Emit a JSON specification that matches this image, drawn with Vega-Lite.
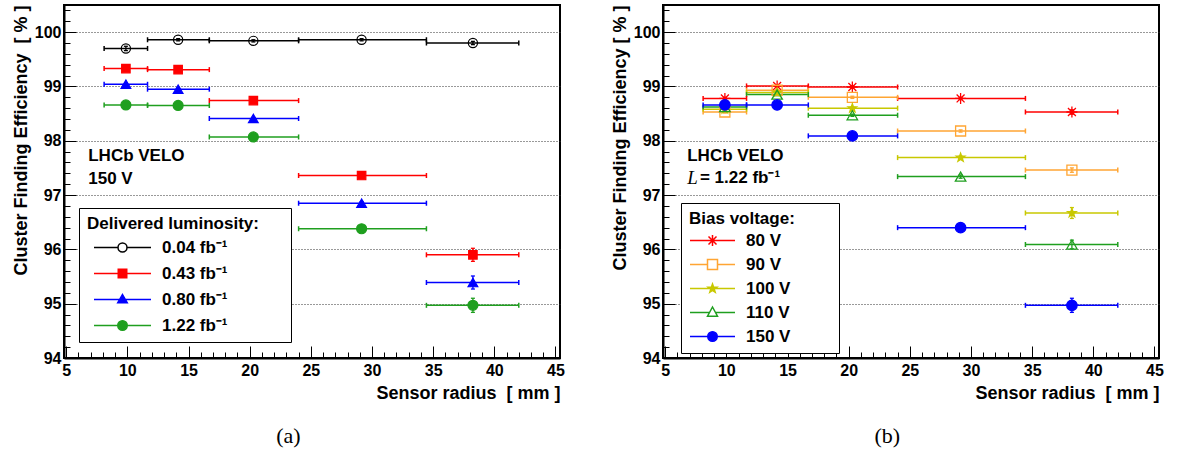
{
  "$schema": "https://vega.github.io/schema/vega-lite/v6.json",
  "padding": {"left": 11, "top": 1, "right": 5, "bottom": 0},
  "datasets": {
    "lumi": [
      {"series": "0.04 fb⁻¹", "r": 9.88, "rlo": 8.1, "rhi": 11.65, "eff": 99.70, "elo": 99.66, "ehi": 99.74},
      {"series": "0.04 fb⁻¹", "r": 14.15, "rlo": 11.65, "rhi": 16.7, "eff": 99.86, "elo": 99.84, "ehi": 99.88},
      {"series": "0.04 fb⁻¹", "r": 20.3, "rlo": 16.7, "rhi": 24.0, "eff": 99.84, "elo": 99.82, "ehi": 99.86},
      {"series": "0.04 fb⁻¹", "r": 29.15, "rlo": 24.0, "rhi": 34.45, "eff": 99.86, "elo": 99.84, "ehi": 99.88},
      {"series": "0.04 fb⁻¹", "r": 38.25, "rlo": 34.45, "rhi": 42.0, "eff": 99.80, "elo": 99.77, "ehi": 99.83},
      {"series": "0.43 fb⁻¹", "r": 9.88, "rlo": 8.1, "rhi": 11.65, "eff": 99.33, "elo": 99.31, "ehi": 99.35},
      {"series": "0.43 fb⁻¹", "r": 14.15, "rlo": 11.65, "rhi": 16.7, "eff": 99.31, "elo": 99.29, "ehi": 99.33},
      {"series": "0.43 fb⁻¹", "r": 20.3, "rlo": 16.7, "rhi": 24.0, "eff": 98.74, "elo": 98.72, "ehi": 98.76},
      {"series": "0.43 fb⁻¹", "r": 29.15, "rlo": 24.0, "rhi": 34.45, "eff": 97.36, "elo": 97.33, "ehi": 97.39},
      {"series": "0.43 fb⁻¹", "r": 38.25, "rlo": 34.45, "rhi": 42.0, "eff": 95.90, "elo": 95.78, "ehi": 96.02},
      {"series": "0.80 fb⁻¹", "r": 9.88, "rlo": 8.1, "rhi": 11.65, "eff": 99.04, "elo": 99.02, "ehi": 99.06},
      {"series": "0.80 fb⁻¹", "r": 14.15, "rlo": 11.65, "rhi": 16.7, "eff": 98.95, "elo": 98.93, "ehi": 98.97},
      {"series": "0.80 fb⁻¹", "r": 20.3, "rlo": 16.7, "rhi": 24.0, "eff": 98.41, "elo": 98.39, "ehi": 98.43},
      {"series": "0.80 fb⁻¹", "r": 29.15, "rlo": 24.0, "rhi": 34.45, "eff": 96.85, "elo": 96.82, "ehi": 96.88},
      {"series": "0.80 fb⁻¹", "r": 38.25, "rlo": 34.45, "rhi": 42.0, "eff": 95.39, "elo": 95.27, "ehi": 95.51},
      {"series": "1.22 fb⁻¹", "r": 9.88, "rlo": 8.1, "rhi": 11.65, "eff": 98.66, "elo": 98.64, "ehi": 98.68},
      {"series": "1.22 fb⁻¹", "r": 14.15, "rlo": 11.65, "rhi": 16.7, "eff": 98.65, "elo": 98.63, "ehi": 98.67},
      {"series": "1.22 fb⁻¹", "r": 20.3, "rlo": 16.7, "rhi": 24.0, "eff": 98.07, "elo": 98.05, "ehi": 98.09},
      {"series": "1.22 fb⁻¹", "r": 29.15, "rlo": 24.0, "rhi": 34.45, "eff": 96.38, "elo": 96.35, "ehi": 96.41},
      {"series": "1.22 fb⁻¹", "r": 38.25, "rlo": 34.45, "rhi": 42.0, "eff": 94.97, "elo": 94.84, "ehi": 95.10}
    ],
    "bias": [
      {"series": "80 V", "r": 9.88, "rlo": 8.1, "rhi": 11.65, "eff": 98.78, "elo": 98.76, "ehi": 98.80},
      {"series": "80 V", "r": 14.15, "rlo": 11.65, "rhi": 16.7, "eff": 99.01, "elo": 98.99, "ehi": 99.03},
      {"series": "80 V", "r": 20.3, "rlo": 16.7, "rhi": 24.0, "eff": 98.99, "elo": 98.97, "ehi": 99.01},
      {"series": "80 V", "r": 29.15, "rlo": 24.0, "rhi": 34.45, "eff": 98.78, "elo": 98.76, "ehi": 98.80},
      {"series": "80 V", "r": 38.25, "rlo": 34.45, "rhi": 42.0, "eff": 98.53, "elo": 98.49, "ehi": 98.57},
      {"series": "90 V", "r": 9.88, "rlo": 8.1, "rhi": 11.65, "eff": 98.53, "elo": 98.51, "ehi": 98.55},
      {"series": "90 V", "r": 14.15, "rlo": 11.65, "rhi": 16.7, "eff": 98.93, "elo": 98.91, "ehi": 98.95},
      {"series": "90 V", "r": 20.3, "rlo": 16.7, "rhi": 24.0, "eff": 98.80, "elo": 98.78, "ehi": 98.82},
      {"series": "90 V", "r": 29.15, "rlo": 24.0, "rhi": 34.45, "eff": 98.18, "elo": 98.16, "ehi": 98.20},
      {"series": "90 V", "r": 38.25, "rlo": 34.45, "rhi": 42.0, "eff": 97.46, "elo": 97.42, "ehi": 97.50},
      {"series": "100 V", "r": 9.88, "rlo": 8.1, "rhi": 11.65, "eff": 98.58, "elo": 98.56, "ehi": 98.60},
      {"series": "100 V", "r": 14.15, "rlo": 11.65, "rhi": 16.7, "eff": 98.89, "elo": 98.87, "ehi": 98.91},
      {"series": "100 V", "r": 20.3, "rlo": 16.7, "rhi": 24.0, "eff": 98.60, "elo": 98.58, "ehi": 98.62},
      {"series": "100 V", "r": 29.15, "rlo": 24.0, "rhi": 34.45, "eff": 97.69, "elo": 97.66, "ehi": 97.72},
      {"series": "100 V", "r": 38.25, "rlo": 34.45, "rhi": 42.0, "eff": 96.67, "elo": 96.57, "ehi": 96.77},
      {"series": "110 V", "r": 9.88, "rlo": 8.1, "rhi": 11.65, "eff": 98.62, "elo": 98.60, "ehi": 98.64},
      {"series": "110 V", "r": 14.15, "rlo": 11.65, "rhi": 16.7, "eff": 98.85, "elo": 98.83, "ehi": 98.87},
      {"series": "110 V", "r": 20.3, "rlo": 16.7, "rhi": 24.0, "eff": 98.47, "elo": 98.45, "ehi": 98.49},
      {"series": "110 V", "r": 29.15, "rlo": 24.0, "rhi": 34.45, "eff": 97.34, "elo": 97.31, "ehi": 97.37},
      {"series": "110 V", "r": 38.25, "rlo": 34.45, "rhi": 42.0, "eff": 96.09, "elo": 96.01, "ehi": 96.17},
      {"series": "150 V", "r": 9.88, "rlo": 8.1, "rhi": 11.65, "eff": 98.66, "elo": 98.64, "ehi": 98.68},
      {"series": "150 V", "r": 14.15, "rlo": 11.65, "rhi": 16.7, "eff": 98.66, "elo": 98.64, "ehi": 98.68},
      {"series": "150 V", "r": 20.3, "rlo": 16.7, "rhi": 24.0, "eff": 98.09, "elo": 98.07, "ehi": 98.11},
      {"series": "150 V", "r": 29.15, "rlo": 24.0, "rhi": 34.45, "eff": 96.40, "elo": 96.37, "ehi": 96.43},
      {"series": "150 V", "r": 38.25, "rlo": 34.45, "rhi": 42.0, "eff": 94.97, "elo": 94.84, "ehi": 95.10}
    ]
  },
  "config": {
    "font": "Liberation Sans",
    "view": {"stroke": "black", "strokeWidth": 2},
    "axis": {
      "labelFont": "Liberation Sans", "labelFontSize": 16, "labelFontWeight": "bold", "labelColor": "black",
      "titleFont": "Liberation Sans", "titleFontSize": 18, "titleFontWeight": "bold", "titleColor": "black",
      "domainColor": "black", "domainWidth": 2, "tickColor": "black", "tickWidth": 1,
      "labelOverlap": false, "labelBound": false, "labelFlush": false
    },
    "legend": {
      "titleFont": "Liberation Sans", "titleFontSize": 17, "titleFontWeight": "bold", "titleColor": "black", "titleLimit": 400,
      "labelFont": "Liberation Sans", "labelFontSize": 17, "labelFontWeight": "bold", "labelColor": "black", "labelLimit": 300,
      "symbolSize": 100, "symbolStrokeWidth": 1.5, "symbolOpacity": 1,
      "padding": 8, "strokeColor": "black", "fillColor": "white"
    }
  },
  "resolve": {
    "scale": {"shape": "independent", "fill": "independent", "stroke": "independent", "x": "independent", "y": "independent"},
    "legend": {"shape": "independent", "fill": "independent", "stroke": "independent"}
  },
  "spacing": 44,
  "hconcat": [
    {
      "width": 496, "height": 353,
      "title": {"text": "(a)", "orient": "bottom", "anchor": "middle", "frame": "bounds", "font": "Liberation Serif", "fontSize": 22, "fontWeight": "normal", "color": "black", "offset": 24},
      "data": {"name": "lumi"},
      "layer": [
        {
          "mark": {"type": "point", "opacity": 0},
          "encoding": {
            "x": {"field": "r", "type": "quantitative", "scale": {"domain": [4.82, 45.37], "nice": false, "zero": false},
              "axis": {"title": "Sensor radius \u00a0[ mm ]", "titleAnchor": "end", "titlePadding": 0, "grid": false, "tickCount": 200,
                "values": [5,6,7,8,9,10,11,12,13,14,15,16,17,18,19,20,21,22,23,24,25,26,27,28,29,30,31,32,33,34,35,36,37,38,39,40,41,42,43,44,45],
                "labelExpr": "datum.value % 5 === 0 ? datum.value : ''",
                "tickSize": {"condition": {"test": "datum.value % 5 === 0", "value": -12}, "value": -6},
                "labelPadding": 16}},
            "y": {"field": "eff", "type": "quantitative", "scale": {"domain": [94, 100.5], "nice": false, "zero": false},
              "axis": {"title": "Cluster Finding Efficiency \u00a0[ % ]", "titleAnchor": "end", "titlePadding": 4, "tickCount": 200,
                "values": [94,94.2,94.4,94.6,94.8,95,95.2,95.4,95.6,95.8,96,96.2,96.4,96.6,96.8,97,97.2,97.4,97.6,97.8,98,98.2,98.4,98.6,98.8,99,99.2,99.4,99.6,99.8,100,100.2,100.4],
                "labelExpr": "abs(datum.value - round(datum.value)) < 0.001 ? datum.value : ''",
                "tickSize": {"condition": {"test": "abs(datum.value - round(datum.value)) < 0.001", "value": -12}, "value": -6},
                "grid": true, "gridDash": [1, 2], "gridColor": "#333333", "gridWidth": 1,
                "gridOpacity": {"condition": {"test": "abs(datum.value - round(datum.value)) < 0.001 && datum.value > 94.5", "value": 1}, "value": 0},
                "labelPadding": 15}},
            "shape": {"field": "series", "type": "nominal",
              "scale": {"domain": ["0.04 fb⁻¹", "0.43 fb⁻¹", "0.80 fb⁻¹", "1.22 fb⁻¹"],
                "range": ["M-5.7,0H-0.9M0.9,0H5.7M0.9,0A0.9,0.9 0 1,1 -0.9,0A0.9,0.9 0 1,1 0.9,0Z",
                          "M-5.7,0H5.7M-0.85,-0.85H0.85V0.85H-0.85Z",
                          "M-5.7,0H5.7M0,-1L0.95,0.65H-0.95Z",
                          "M-5.7,0H5.7M0.95,0A0.95,0.95 0 1,1 -0.95,0A0.95,0.95 0 1,1 0.95,0Z"]},
              "legend": {"title": "Delivered luminosity:\u2800\u2800", "orient": "none", "legendX": 15, "legendY": 203, "symbolOffset": 27, "labelOffset": 31, "rowPadding": 8, "titlePadding": 6}},
            "fill": {"field": "series", "type": "nominal",
              "scale": {"domain": ["0.04 fb⁻¹", "0.43 fb⁻¹", "0.80 fb⁻¹", "1.22 fb⁻¹"], "range": ["transparent", "#ff0000", "#0000ff", "#1f9f1f"]},
              "legend": {"title": "Delivered luminosity:\u2800\u2800", "orient": "none", "legendX": 15, "legendY": 203, "symbolOffset": 27, "labelOffset": 31, "rowPadding": 8, "titlePadding": 6}},
            "stroke": {"field": "series", "type": "nominal",
              "scale": {"domain": ["0.04 fb⁻¹", "0.43 fb⁻¹", "0.80 fb⁻¹", "1.22 fb⁻¹"], "range": ["#000000", "#ff0000", "#0000ff", "#1f9f1f"]},
              "legend": {"title": "Delivered luminosity:\u2800\u2800", "orient": "none", "legendX": 15, "legendY": 203, "symbolOffset": 27, "labelOffset": 31, "rowPadding": 8, "titlePadding": 6}}
          }
        },
        {
          "mark": {"type": "rule", "strokeWidth": 1.5},
          "encoding": {
            "x": {"field": "rlo", "type": "quantitative", "scale": {"domain": [4.82, 45.37], "nice": false, "zero": false}},
            "x2": {"field": "rhi"},
            "y": {"field": "eff", "type": "quantitative", "scale": {"domain": [94, 100.5], "nice": false, "zero": false}},
            "stroke": {"field": "series", "type": "nominal", "scale": {"domain": ["0.04 fb⁻¹", "0.43 fb⁻¹", "0.80 fb⁻¹", "1.22 fb⁻¹"], "range": ["#000000", "#ff0000", "#0000ff", "#1f9f1f"]}, "legend": null}
          }
        },
        {
          "mark": {"type": "point", "shape": "M0,-1L0,1", "size": 25, "strokeWidth": 1.5, "opacity": 1, "filled": false},
          "encoding": {
            "x": {"field": "rlo", "type": "quantitative", "scale": {"domain": [4.82, 45.37], "nice": false, "zero": false}},
            "y": {"field": "eff", "type": "quantitative", "scale": {"domain": [94, 100.5], "nice": false, "zero": false}},
            "stroke": {"field": "series", "type": "nominal", "scale": {"domain": ["0.04 fb⁻¹", "0.43 fb⁻¹", "0.80 fb⁻¹", "1.22 fb⁻¹"], "range": ["#000000", "#ff0000", "#0000ff", "#1f9f1f"]}, "legend": null}
          }
        },
        {
          "mark": {"type": "point", "shape": "M0,-1L0,1", "size": 25, "strokeWidth": 1.5, "opacity": 1, "filled": false},
          "encoding": {
            "x": {"field": "rhi", "type": "quantitative", "scale": {"domain": [4.82, 45.37], "nice": false, "zero": false}},
            "y": {"field": "eff", "type": "quantitative", "scale": {"domain": [94, 100.5], "nice": false, "zero": false}},
            "stroke": {"field": "series", "type": "nominal", "scale": {"domain": ["0.04 fb⁻¹", "0.43 fb⁻¹", "0.80 fb⁻¹", "1.22 fb⁻¹"], "range": ["#000000", "#ff0000", "#0000ff", "#1f9f1f"]}, "legend": null}
          }
        },
        {
          "mark": {"type": "rule", "strokeWidth": 1.3},
          "encoding": {
            "x": {"field": "r", "type": "quantitative", "scale": {"domain": [4.82, 45.37], "nice": false, "zero": false}},
            "y": {"field": "elo", "type": "quantitative", "scale": {"domain": [94, 100.5], "nice": false, "zero": false}},
            "y2": {"field": "ehi"},
            "stroke": {"field": "series", "type": "nominal", "scale": {"domain": ["0.04 fb⁻¹", "0.43 fb⁻¹", "0.80 fb⁻¹", "1.22 fb⁻¹"], "range": ["#000000", "#ff0000", "#0000ff", "#1f9f1f"]}, "legend": null}
          }
        },
        {
          "mark": {"type": "point", "shape": "M-1,0L1,0", "size": 16, "strokeWidth": 1.3, "opacity": 1, "filled": false},
          "encoding": {
            "x": {"field": "r", "type": "quantitative", "scale": {"domain": [4.82, 45.37], "nice": false, "zero": false}},
            "y": {"field": "elo", "type": "quantitative", "scale": {"domain": [94, 100.5], "nice": false, "zero": false}},
            "stroke": {"field": "series", "type": "nominal", "scale": {"domain": ["0.04 fb⁻¹", "0.43 fb⁻¹", "0.80 fb⁻¹", "1.22 fb⁻¹"], "range": ["#000000", "#ff0000", "#0000ff", "#1f9f1f"]}, "legend": null}
          }
        },
        {
          "mark": {"type": "point", "shape": "M-1,0L1,0", "size": 16, "strokeWidth": 1.3, "opacity": 1, "filled": false},
          "encoding": {
            "x": {"field": "r", "type": "quantitative", "scale": {"domain": [4.82, 45.37], "nice": false, "zero": false}},
            "y": {"field": "ehi", "type": "quantitative", "scale": {"domain": [94, 100.5], "nice": false, "zero": false}},
            "stroke": {"field": "series", "type": "nominal", "scale": {"domain": ["0.04 fb⁻¹", "0.43 fb⁻¹", "0.80 fb⁻¹", "1.22 fb⁻¹"], "range": ["#000000", "#ff0000", "#0000ff", "#1f9f1f"]}, "legend": null}
          }
        },
        {
          "mark": {"type": "point", "strokeWidth": 1.2, "opacity": 1},
          "encoding": {
            "x": {"field": "r", "type": "quantitative", "scale": {"domain": [4.82, 45.37], "nice": false, "zero": false}},
            "y": {"field": "eff", "type": "quantitative", "scale": {"domain": [94, 100.5], "nice": false, "zero": false}},
            "shape": {"condition": [{"test": "datum.series === '0.43 fb⁻¹'", "value": "square"}, {"test": "datum.series === '0.80 fb⁻¹'", "value": "triangle-up"}], "value": "circle"},
            "size": {"condition": [{"test": "datum.series === '0.04 fb⁻¹'", "value": 85}, {"test": "datum.series === '0.43 fb⁻¹'", "value": 72}, {"test": "datum.series === '0.80 fb⁻¹'", "value": 95}], "value": 100},
            "fill": {"field": "series", "type": "nominal", "scale": {"domain": ["0.04 fb⁻¹", "0.43 fb⁻¹", "0.80 fb⁻¹", "1.22 fb⁻¹"], "range": ["transparent", "#ff0000", "#0000ff", "#1f9f1f"]}, "legend": null},
            "stroke": {"field": "series", "type": "nominal", "scale": {"domain": ["0.04 fb⁻¹", "0.43 fb⁻¹", "0.80 fb⁻¹", "1.22 fb⁻¹"], "range": ["#000000", "#ff0000", "#0000ff", "#1f9f1f"]}, "legend": null}
          }
        },
        {
          "data": {"values": [{}]},
          "mark": {"type": "text", "align": "left", "baseline": "middle", "font": "Liberation Sans", "fontSize": 17, "fontWeight": "bold", "color": "black", "text": "LHCb VELO"},
          "encoding": {
            "x": {"datum": 6.8, "type": "quantitative", "scale": {"domain": [4.82, 45.37], "nice": false, "zero": false}},
            "y": {"datum": 97.72, "type": "quantitative", "scale": {"domain": [94, 100.5], "nice": false, "zero": false}}
          }
        },
        {
          "data": {"values": [{}]},
          "mark": {"type": "text", "align": "left", "baseline": "middle", "font": "Liberation Sans", "fontSize": 17, "fontWeight": "bold", "color": "black", "text": "150 V"},
          "encoding": {
            "x": {"datum": 6.8, "type": "quantitative", "scale": {"domain": [4.82, 45.37], "nice": false, "zero": false}},
            "y": {"datum": 97.29, "type": "quantitative", "scale": {"domain": [94, 100.5], "nice": false, "zero": false}}
          }
        }
      ]
    },
    {
      "width": 496, "height": 353,
      "title": {"text": "(b)", "orient": "bottom", "anchor": "middle", "frame": "bounds", "font": "Liberation Serif", "fontSize": 22, "fontWeight": "normal", "color": "black", "offset": 24},
      "data": {"name": "bias"},
      "layer": [
        {
          "mark": {"type": "point", "opacity": 0},
          "encoding": {
            "x": {"field": "r", "type": "quantitative", "scale": {"domain": [4.82, 45.37], "nice": false, "zero": false},
              "axis": {"title": "Sensor radius \u00a0[ mm ]", "titleAnchor": "end", "titlePadding": 0, "grid": false, "tickCount": 200,
                "values": [5,6,7,8,9,10,11,12,13,14,15,16,17,18,19,20,21,22,23,24,25,26,27,28,29,30,31,32,33,34,35,36,37,38,39,40,41,42,43,44,45],
                "labelExpr": "datum.value % 5 === 0 ? datum.value : ''",
                "tickSize": {"condition": {"test": "datum.value % 5 === 0", "value": -12}, "value": -6},
                "labelPadding": 16}},
            "y": {"field": "eff", "type": "quantitative", "scale": {"domain": [94, 100.5], "nice": false, "zero": false},
              "axis": {"title": "Cluster Finding Efficiency [ % ]", "titleAnchor": "end", "titlePadding": 4, "tickCount": 200,
                "values": [94,94.2,94.4,94.6,94.8,95,95.2,95.4,95.6,95.8,96,96.2,96.4,96.6,96.8,97,97.2,97.4,97.6,97.8,98,98.2,98.4,98.6,98.8,99,99.2,99.4,99.6,99.8,100,100.2,100.4],
                "labelExpr": "abs(datum.value - round(datum.value)) < 0.001 ? datum.value : ''",
                "tickSize": {"condition": {"test": "abs(datum.value - round(datum.value)) < 0.001", "value": -12}, "value": -6},
                "grid": true, "gridDash": [1, 2], "gridColor": "#333333", "gridWidth": 1,
                "gridOpacity": {"condition": {"test": "abs(datum.value - round(datum.value)) < 0.001 && datum.value > 94.5", "value": 1}, "value": 0},
                "labelPadding": 15}},
            "shape": {"field": "series", "type": "nominal",
              "scale": {"domain": ["80 V", "90 V", "100 V", "110 V", "150 V"],
                "range": ["M-4.5,0H4.5M0,-1.1V1.1M-0.8,-0.8L0.8,0.8M-0.8,0.8L0.8,-0.8",
                          "M-4.5,0H-1M1,0H4.5M-1,-1H1V1H-1Z",
                          "M-4.5,0H4.5M0,-0.9L0.21,-0.29L0.86,-0.28L0.34,0.11L0.53,0.73L0,0.36L-0.53,0.73L-0.34,0.11L-0.86,-0.28L-0.21,-0.29Z",
                          "M-4.5,0H-0.65M0.65,0H4.5M0,-1.1L1,0.75H-1Z",
                          "M-4.5,0H4.5M0.95,0A0.95,0.95 0 1,1 -0.95,0A0.95,0.95 0 1,1 0.95,0Z"]},
              "legend": {"title": "Bias voltage:\u2800\u2800\u2800", "orient": "none", "legendX": 18, "legendY": 198, "symbolOffset": 15, "labelOffset": 25, "rowPadding": 6, "titlePadding": 4}},
            "fill": {"field": "series", "type": "nominal",
              "scale": {"domain": ["80 V", "90 V", "100 V", "110 V", "150 V"], "range": ["transparent", "transparent", "#c8c800", "transparent", "#0000ff"]},
              "legend": {"title": "Bias voltage:\u2800\u2800\u2800", "orient": "none", "legendX": 18, "legendY": 198, "symbolOffset": 15, "labelOffset": 25, "rowPadding": 6, "titlePadding": 4}},
            "stroke": {"field": "series", "type": "nominal",
              "scale": {"domain": ["80 V", "90 V", "100 V", "110 V", "150 V"], "range": ["#ff0000", "#ffa533", "#c8c800", "#1f9f1f", "#0000ff"]},
              "legend": {"title": "Bias voltage:\u2800\u2800\u2800", "orient": "none", "legendX": 18, "legendY": 198, "symbolOffset": 15, "labelOffset": 25, "rowPadding": 6, "titlePadding": 4}}
          }
        },
        {
          "mark": {"type": "rule", "strokeWidth": 1.5},
          "encoding": {
            "x": {"field": "rlo", "type": "quantitative", "scale": {"domain": [4.82, 45.37], "nice": false, "zero": false}},
            "x2": {"field": "rhi"},
            "y": {"field": "eff", "type": "quantitative", "scale": {"domain": [94, 100.5], "nice": false, "zero": false}},
            "stroke": {"field": "series", "type": "nominal", "scale": {"domain": ["80 V", "90 V", "100 V", "110 V", "150 V"], "range": ["#ff0000", "#ffa533", "#c8c800", "#1f9f1f", "#0000ff"]}, "legend": null}
          }
        },
        {
          "mark": {"type": "point", "shape": "M0,-1L0,1", "size": 25, "strokeWidth": 1.5, "opacity": 1, "filled": false},
          "encoding": {
            "x": {"field": "rlo", "type": "quantitative", "scale": {"domain": [4.82, 45.37], "nice": false, "zero": false}},
            "y": {"field": "eff", "type": "quantitative", "scale": {"domain": [94, 100.5], "nice": false, "zero": false}},
            "stroke": {"field": "series", "type": "nominal", "scale": {"domain": ["80 V", "90 V", "100 V", "110 V", "150 V"], "range": ["#ff0000", "#ffa533", "#c8c800", "#1f9f1f", "#0000ff"]}, "legend": null}
          }
        },
        {
          "mark": {"type": "point", "shape": "M0,-1L0,1", "size": 25, "strokeWidth": 1.5, "opacity": 1, "filled": false},
          "encoding": {
            "x": {"field": "rhi", "type": "quantitative", "scale": {"domain": [4.82, 45.37], "nice": false, "zero": false}},
            "y": {"field": "eff", "type": "quantitative", "scale": {"domain": [94, 100.5], "nice": false, "zero": false}},
            "stroke": {"field": "series", "type": "nominal", "scale": {"domain": ["80 V", "90 V", "100 V", "110 V", "150 V"], "range": ["#ff0000", "#ffa533", "#c8c800", "#1f9f1f", "#0000ff"]}, "legend": null}
          }
        },
        {
          "mark": {"type": "rule", "strokeWidth": 1.3},
          "encoding": {
            "x": {"field": "r", "type": "quantitative", "scale": {"domain": [4.82, 45.37], "nice": false, "zero": false}},
            "y": {"field": "elo", "type": "quantitative", "scale": {"domain": [94, 100.5], "nice": false, "zero": false}},
            "y2": {"field": "ehi"},
            "stroke": {"field": "series", "type": "nominal", "scale": {"domain": ["80 V", "90 V", "100 V", "110 V", "150 V"], "range": ["#ff0000", "#ffa533", "#c8c800", "#1f9f1f", "#0000ff"]}, "legend": null}
          }
        },
        {
          "mark": {"type": "point", "shape": "M-1,0L1,0", "size": 16, "strokeWidth": 1.3, "opacity": 1, "filled": false},
          "encoding": {
            "x": {"field": "r", "type": "quantitative", "scale": {"domain": [4.82, 45.37], "nice": false, "zero": false}},
            "y": {"field": "elo", "type": "quantitative", "scale": {"domain": [94, 100.5], "nice": false, "zero": false}},
            "stroke": {"field": "series", "type": "nominal", "scale": {"domain": ["80 V", "90 V", "100 V", "110 V", "150 V"], "range": ["#ff0000", "#ffa533", "#c8c800", "#1f9f1f", "#0000ff"]}, "legend": null}
          }
        },
        {
          "mark": {"type": "point", "shape": "M-1,0L1,0", "size": 16, "strokeWidth": 1.3, "opacity": 1, "filled": false},
          "encoding": {
            "x": {"field": "r", "type": "quantitative", "scale": {"domain": [4.82, 45.37], "nice": false, "zero": false}},
            "y": {"field": "ehi", "type": "quantitative", "scale": {"domain": [94, 100.5], "nice": false, "zero": false}},
            "stroke": {"field": "series", "type": "nominal", "scale": {"domain": ["80 V", "90 V", "100 V", "110 V", "150 V"], "range": ["#ff0000", "#ffa533", "#c8c800", "#1f9f1f", "#0000ff"]}, "legend": null}
          }
        },
        {
          "mark": {"type": "point", "strokeWidth": 1.3, "opacity": 1},
          "encoding": {
            "x": {"field": "r", "type": "quantitative", "scale": {"domain": [4.82, 45.37], "nice": false, "zero": false}},
            "y": {"field": "eff", "type": "quantitative", "scale": {"domain": [94, 100.5], "nice": false, "zero": false}},
            "shape": {"condition": [
              {"test": "datum.series === '80 V'", "value": "M-1,0L1,0M0,-1L0,1M-0.72,-0.72L0.72,0.72M-0.72,0.72L0.72,-0.72"},
              {"test": "datum.series === '90 V'", "value": "square"},
              {"test": "datum.series === '100 V'", "value": "M0,-1L0.235,-0.324L0.951,-0.309L0.38,0.124L0.588,0.809L0,0.4L-0.588,0.809L-0.38,0.124L-0.951,-0.309L-0.235,-0.324Z"},
              {"test": "datum.series === '110 V'", "value": "triangle-up"}], "value": "circle"},
            "size": {"condition": [
              {"test": "datum.series === '80 V'", "value": 121},
              {"test": "datum.series === '90 V'", "value": 100},
              {"test": "datum.series === '100 V'", "value": 80},
              {"test": "datum.series === '110 V'", "value": 110}], "value": 110},
            "fill": {"field": "series", "type": "nominal", "scale": {"domain": ["80 V", "90 V", "100 V", "110 V", "150 V"], "range": ["transparent", "transparent", "#c8c800", "transparent", "#0000ff"]}, "legend": null},
            "stroke": {"field": "series", "type": "nominal", "scale": {"domain": ["80 V", "90 V", "100 V", "110 V", "150 V"], "range": ["#ff0000", "#ffa533", "#c8c800", "#1f9f1f", "#0000ff"]}, "legend": null}
          }
        },
        {
          "data": {"values": [{}]},
          "mark": {"type": "text", "align": "left", "baseline": "middle", "font": "Liberation Sans", "fontSize": 17, "fontWeight": "bold", "color": "black", "text": "LHCb VELO"},
          "encoding": {
            "x": {"datum": 6.8, "type": "quantitative", "scale": {"domain": [4.82, 45.37], "nice": false, "zero": false}},
            "y": {"datum": 97.72, "type": "quantitative", "scale": {"domain": [94, 100.5], "nice": false, "zero": false}}
          }
        },
        {
          "data": {"values": [{}]},
          "mark": {"type": "text", "align": "left", "baseline": "middle", "font": "Liberation Serif", "fontSize": 19, "fontStyle": "italic", "color": "black", "text": "L"},
          "encoding": {
            "x": {"datum": 6.8, "type": "quantitative", "scale": {"domain": [4.82, 45.37], "nice": false, "zero": false}},
            "y": {"datum": 97.31, "type": "quantitative", "scale": {"domain": [94, 100.5], "nice": false, "zero": false}}
          }
        },
        {
          "data": {"values": [{}]},
          "mark": {"type": "text", "align": "left", "baseline": "middle", "font": "Liberation Sans", "fontSize": 17, "fontWeight": "bold", "color": "black", "text": "= 1.22 fb⁻¹"},
          "encoding": {
            "x": {"datum": 7.84, "type": "quantitative", "scale": {"domain": [4.82, 45.37], "nice": false, "zero": false}},
            "y": {"datum": 97.31, "type": "quantitative", "scale": {"domain": [94, 100.5], "nice": false, "zero": false}}
          }
        }
      ]
    }
  ]
}
